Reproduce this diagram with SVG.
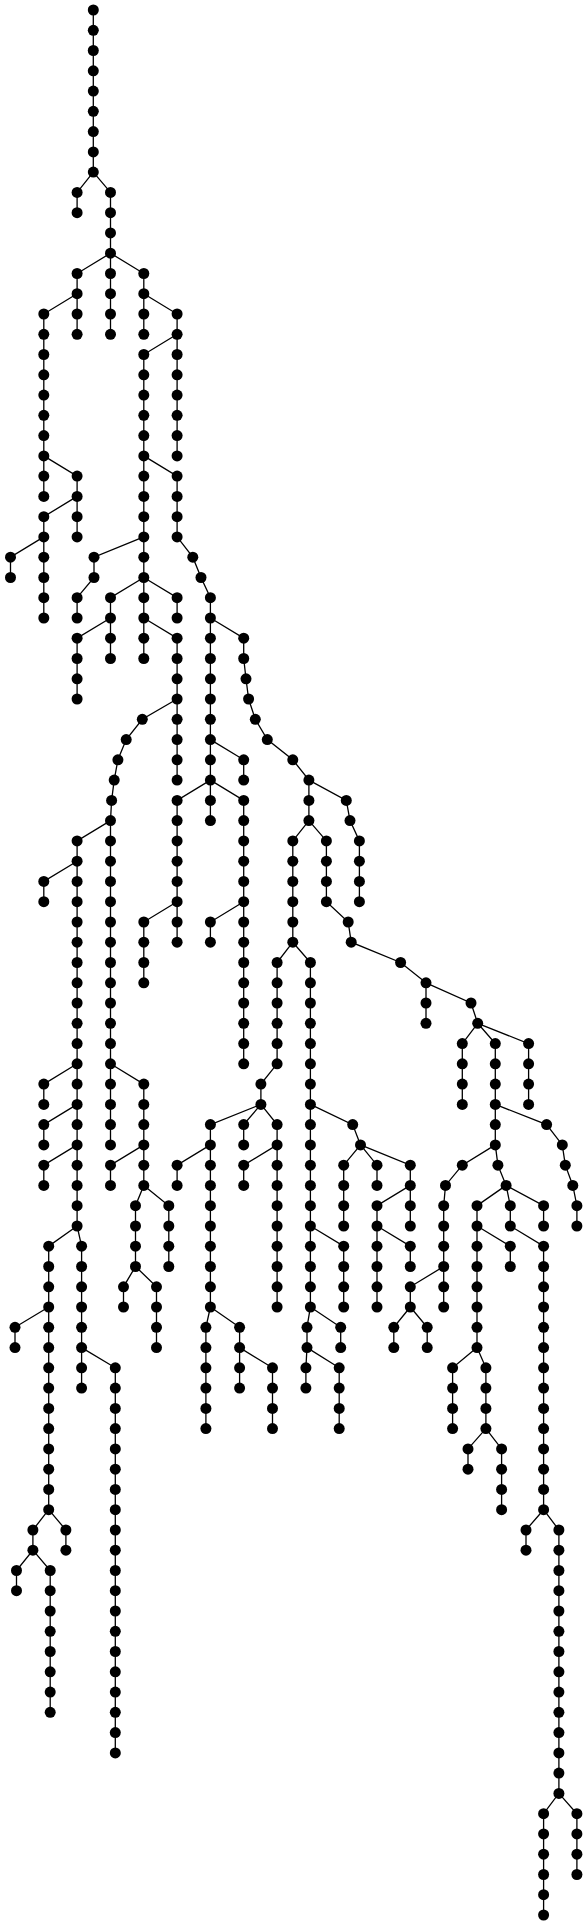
<svg xmlns="http://www.w3.org/2000/svg" width="587" height="1925" viewBox="0 0 587 1925">
<style>
.e path{fill:none;stroke:#000;stroke-width:1.3}
.nd circle{fill:#000;r:5.5px}
</style>
<rect width="587" height="1925" fill="#fff"/>
<g id="connectors" class="e">
<path d="M93.3 10V172.1"/>
<path d="M93.3 172.1L77.1 192.4V212.7"/>
<path d="M93.3 172.1L110.5 192.4V253.2"/>
<path d="M110.5 253.2L77.1 273.5V293.7"/>
<path d="M77.1 293.7L43.8 314V496.4"/>
<path d="M77.1 293.7V334.3"/>
<path d="M110.5 253.2V334.3"/>
<path d="M110.5 253.2L143.8 273.5V334.3"/>
<path d="M143.8 293.7L177.1 314V455.9"/>
<path d="M177.1 334.3L143.8 354.5V577.5"/>
<path d="M43.8 455.9L77.1 476.1V496.4"/>
<path d="M77.1 496.4V536.9"/>
<path d="M77.1 496.4L43.8 516.7V618"/>
<path d="M43.8 536.9L10.5 557.2V577.5"/>
<path d="M143.8 455.9L177.1 476.1V536.9L192.8 557.2L201 577.5L210.4 597.7V618"/>
<path d="M143.8 536.9L94 557.2V577.5L77.1 597.7V618"/>
<path d="M143.8 577.5L110.5 597.7V658.5"/>
<path d="M110.5 618L77.1 638.2V699"/>
<path d="M143.8 577.5V658.5"/>
<path d="M143.8 577.5L177.1 597.7V618"/>
<path d="M143.8 618L177.1 638.2V780.1"/>
<path d="M177.1 699L142.3 719.3L126.2 739.6L117.9 759.8L114.2 780.1L111.6 800.4L110.5 820.6V1144.9"/>
<path d="M110.5 820.6L77.1 840.9V1226"/>
<path d="M77.1 861.2L43.8 881.4V901.7"/>
<path d="M77.1 1063.8L43.8 1084.1V1104.4"/>
<path d="M77.1 1104.4L43.8 1124.6V1144.9"/>
<path d="M77.1 1144.9L43.8 1165.2V1185.4"/>
<path d="M77.1 1226L48.7 1246.2V1509.7"/>
<path d="M77.1 1226L81.6 1246.2V1388.1"/>
<path d="M48.7 1307L15 1327.3V1347.6"/>
<path d="M81.6 1347.6L115.3 1367.8V1752.9"/>
<path d="M48.7 1509.7L32.9 1530V1550.2L16.5 1570.5V1590.7"/>
<path d="M32.9 1550.2L50.2 1570.5V1712.3"/>
<path d="M48.7 1509.7L65.9 1530V1550.2"/>
<path d="M110.5 1063.8L143.8 1084.1V1185.4"/>
<path d="M177.1 901.7L143.8 922V982.8"/>
<path d="M143.8 1144.9L110.5 1165.2V1185.4"/>
<path d="M143.8 1185.4L135.5 1205.7V1266.5L123.5 1286.8V1307"/>
<path d="M135.5 1266.5L156.5 1286.8V1347.6"/>
<path d="M143.8 1185.4L168.8 1205.7V1266.5"/>
<path d="M210.4 618V820.6"/>
<path d="M210.4 780.1L177.1 800.4V942.2"/>
<path d="M210.4 780.1L243.7 800.4V1063.8"/>
<path d="M210.4 739.6L243.7 759.8V780.1"/>
<path d="M243.7 901.7L210.4 922V942.2"/>
<path d="M210.4 618L243.7 638.2V658.5L246 678.8L248.6 699L255.3 719.3L267.3 739.6L292.8 759.8L308.9 780.1V820.6"/>
<path d="M308.9 820.6L292.8 840.9V942.2"/>
<path d="M292.8 942.2L277.1 962.5V1063.8L260.9 1084.1V1104.4"/>
<path d="M292.8 942.2L310.4 962.5V1307"/>
<path d="M310.4 1104.4L352.7 1124.6L360.5 1144.9L343.7 1165.2V1226"/>
<path d="M360.5 1144.9L377 1165.2V1185.4"/>
<path d="M360.5 1144.9L410.3 1165.2V1226"/>
<path d="M410.3 1185.4L377 1205.7V1307"/>
<path d="M377 1226L410.3 1246.2V1266.5"/>
<path d="M310.4 1226L343.7 1246.2V1307"/>
<path d="M310.4 1307L307 1327.3V1347.6L305.9 1367.8V1388.1"/>
<path d="M307 1347.6L339.2 1367.8V1428.6"/>
<path d="M310.4 1307L340.7 1327.3V1347.6"/>
<path d="M260.9 1104.4L210.4 1124.6V1307"/>
<path d="M210.4 1144.9L177.1 1165.2V1185.4"/>
<path d="M210.4 1307L205.9 1327.3V1428.6"/>
<path d="M210.4 1307L239.6 1327.3V1388.1"/>
<path d="M239.6 1347.6L272.5 1367.8V1428.6"/>
<path d="M260.9 1104.4L243.7 1124.6V1144.9"/>
<path d="M260.9 1104.4L277.1 1124.6V1307"/>
<path d="M277.1 1144.9L243.7 1165.2V1185.4"/>
<path d="M308.9 780.1L346.3 800.4L350 820.6L359.4 840.9V901.7"/>
<path d="M308.9 820.6L326.4 840.9V901.7L348.2 922L351.2 942.2L400.6 962.5L426 982.8V1023.3"/>
<path d="M426 982.8L471 1003L477.7 1023.3L462.3 1043.6V1104.4"/>
<path d="M477.7 1023.3L495.3 1043.6V1144.9"/>
<path d="M477.7 1023.3L528.6 1043.6V1104.4"/>
<path d="M495.3 1104.4L546.6 1124.6L562.3 1144.9L565.3 1165.2L572.8 1185.4L576.9 1205.7V1226"/>
<path d="M495.3 1144.9L462.3 1165.2L445.5 1185.4L443.7 1205.7V1307"/>
<path d="M443.7 1266.5L410.3 1286.8V1307"/>
<path d="M410.3 1307L393.8 1327.3V1347.6"/>
<path d="M410.3 1307L427.2 1327.3V1347.6"/>
<path d="M495.3 1144.9L497.9 1165.2L506.1 1185.4L477 1205.7V1347.6"/>
<path d="M477 1226L510.3 1246.2V1266.5"/>
<path d="M506.1 1185.4L510.3 1205.7V1226L543.6 1246.2V1509.7"/>
<path d="M506.1 1185.4L543.6 1205.7V1226"/>
<path d="M477 1347.6L452.6 1367.8V1428.6"/>
<path d="M477 1347.6L485.9 1367.8V1428.6L468 1448.9V1469.2"/>
<path d="M485.9 1428.6L501.6 1448.9V1509.7"/>
<path d="M543.6 1509.7L526 1530V1550.2"/>
<path d="M543.6 1509.7L558.9 1530V1793.4L543.6 1813.7V1915"/>
<path d="M558.9 1793.4L576.9 1813.7V1874.5"/>
</g>
<g class="nd">
<g id="n0"><circle cx="93.3" cy="10"/></g>
<g id="n1"><circle cx="93.3" cy="30.3"/></g>
<g id="n2"><circle cx="93.3" cy="50.5"/></g>
<g id="n3"><circle cx="93.3" cy="70.8"/></g>
<g id="n4"><circle cx="93.3" cy="91.1"/></g>
<g id="n5"><circle cx="93.3" cy="111.3"/></g>
<g id="n6"><circle cx="93.3" cy="131.6"/></g>
<g id="n7"><circle cx="93.3" cy="151.9"/></g>
<g id="n8"><circle cx="93.3" cy="172.1"/></g>
<g id="n9a"><circle cx="77.1" cy="192.4"/></g>
<g id="n9b"><circle cx="110.5" cy="192.4"/></g>
<g id="n10a"><circle cx="77.1" cy="212.7"/></g>
<g id="n10b"><circle cx="110.5" cy="212.7"/></g>
<g id="n11"><circle cx="110.5" cy="232.9"/></g>
<g id="n12"><circle cx="110.5" cy="253.2"/></g>
<g id="n13a"><circle cx="77.1" cy="273.5"/></g>
<g id="n13b"><circle cx="110.5" cy="273.5"/></g>
<g id="n13c"><circle cx="143.8" cy="273.5"/></g>
<g id="n14a"><circle cx="77.1" cy="293.7"/></g>
<g id="n14b"><circle cx="110.5" cy="293.7"/></g>
<g id="n14c"><circle cx="143.8" cy="293.7"/></g>
<g id="n15a"><circle cx="43.8" cy="314"/></g>
<g id="n15b"><circle cx="77.1" cy="314"/></g>
<g id="n15c"><circle cx="110.5" cy="314"/></g>
<g id="n15d"><circle cx="143.8" cy="314"/></g>
<g id="n15e"><circle cx="177.1" cy="314"/></g>
<g id="n16a"><circle cx="43.8" cy="334.3"/></g>
<g id="n16b"><circle cx="77.1" cy="334.3"/></g>
<g id="n16c"><circle cx="110.5" cy="334.3"/></g>
<g id="n16d"><circle cx="143.8" cy="334.3"/></g>
<g id="n16e"><circle cx="177.1" cy="334.3"/></g>
<g id="n17a"><circle cx="43.8" cy="354.5"/></g>
<g id="n17b"><circle cx="143.8" cy="354.5"/></g>
<g id="n17c"><circle cx="177.1" cy="354.5"/></g>
<g id="n18a"><circle cx="43.8" cy="374.8"/></g>
<g id="n18b"><circle cx="143.8" cy="374.8"/></g>
<g id="n18c"><circle cx="177.1" cy="374.8"/></g>
<g id="n19a"><circle cx="43.8" cy="395.1"/></g>
<g id="n19b"><circle cx="143.8" cy="395.1"/></g>
<g id="n19c"><circle cx="177.1" cy="395.1"/></g>
<g id="n20a"><circle cx="43.8" cy="415.3"/></g>
<g id="n20b"><circle cx="143.8" cy="415.3"/></g>
<g id="n20c"><circle cx="177.1" cy="415.3"/></g>
<g id="n21a"><circle cx="43.8" cy="435.6"/></g>
<g id="n21b"><circle cx="143.8" cy="435.6"/></g>
<g id="n21c"><circle cx="177.1" cy="435.6"/></g>
<g id="n22a"><circle cx="43.8" cy="455.9"/></g>
<g id="n22b"><circle cx="143.8" cy="455.9"/></g>
<g id="n22c"><circle cx="177.1" cy="455.9"/></g>
<g id="n23a"><circle cx="43.8" cy="476.1"/></g>
<g id="n23b"><circle cx="77.1" cy="476.1"/></g>
<g id="n23c"><circle cx="143.8" cy="476.1"/></g>
<g id="n23d"><circle cx="177.1" cy="476.1"/></g>
<g id="n24a"><circle cx="43.8" cy="496.4"/></g>
<g id="n24b"><circle cx="77.1" cy="496.4"/></g>
<g id="n24c"><circle cx="143.8" cy="496.4"/></g>
<g id="n24d"><circle cx="177.1" cy="496.4"/></g>
<g id="n25a"><circle cx="43.8" cy="516.7"/></g>
<g id="n25b"><circle cx="77.1" cy="516.7"/></g>
<g id="n25c"><circle cx="143.8" cy="516.7"/></g>
<g id="n25d"><circle cx="177.1" cy="516.7"/></g>
<g id="n26a"><circle cx="43.8" cy="536.9"/></g>
<g id="n26b"><circle cx="77.1" cy="536.9"/></g>
<g id="n26c"><circle cx="143.8" cy="536.9"/></g>
<g id="n26d"><circle cx="177.1" cy="536.9"/></g>
<g id="n27a"><circle cx="10.5" cy="557.2"/></g>
<g id="n27b"><circle cx="43.8" cy="557.2"/></g>
<g id="n27c"><circle cx="94" cy="557.2"/></g>
<g id="n27d"><circle cx="143.8" cy="557.2"/></g>
<g id="n27e"><circle cx="192.8" cy="557.2"/></g>
<g id="n28a"><circle cx="10.5" cy="577.5"/></g>
<g id="n28b"><circle cx="43.8" cy="577.5"/></g>
<g id="n28c"><circle cx="94" cy="577.5"/></g>
<g id="n28d"><circle cx="143.8" cy="577.5"/></g>
<g id="n28e"><circle cx="201" cy="577.5"/></g>
<g id="n29a"><circle cx="43.8" cy="597.7"/></g>
<g id="n29b"><circle cx="77.1" cy="597.7"/></g>
<g id="n29c"><circle cx="110.5" cy="597.7"/></g>
<g id="n29d"><circle cx="143.8" cy="597.7"/></g>
<g id="n29e"><circle cx="177.1" cy="597.7"/></g>
<g id="n29f"><circle cx="210.4" cy="597.7"/></g>
<g id="n30a"><circle cx="43.8" cy="618"/></g>
<g id="n30b"><circle cx="77.1" cy="618"/></g>
<g id="n30c"><circle cx="110.5" cy="618"/></g>
<g id="n30d"><circle cx="143.8" cy="618"/></g>
<g id="n30e"><circle cx="177.1" cy="618"/></g>
<g id="n30f"><circle cx="210.4" cy="618"/></g>
<g id="n31a"><circle cx="77.1" cy="638.2"/></g>
<g id="n31b"><circle cx="110.5" cy="638.2"/></g>
<g id="n31c"><circle cx="143.8" cy="638.2"/></g>
<g id="n31d"><circle cx="177.1" cy="638.2"/></g>
<g id="n31e"><circle cx="210.4" cy="638.2"/></g>
<g id="n31f"><circle cx="243.7" cy="638.2"/></g>
<g id="n32a"><circle cx="77.1" cy="658.5"/></g>
<g id="n32b"><circle cx="110.5" cy="658.5"/></g>
<g id="n32c"><circle cx="143.8" cy="658.5"/></g>
<g id="n32d"><circle cx="177.1" cy="658.5"/></g>
<g id="n32e"><circle cx="210.4" cy="658.5"/></g>
<g id="n32f"><circle cx="243.7" cy="658.5"/></g>
<g id="n33a"><circle cx="77.1" cy="678.8"/></g>
<g id="n33b"><circle cx="177.1" cy="678.8"/></g>
<g id="n33c"><circle cx="210.4" cy="678.8"/></g>
<g id="n33d"><circle cx="246" cy="678.8"/></g>
<g id="n34a"><circle cx="77.1" cy="699"/></g>
<g id="n34b"><circle cx="177.1" cy="699"/></g>
<g id="n34c"><circle cx="210.4" cy="699"/></g>
<g id="n34d"><circle cx="248.6" cy="699"/></g>
<g id="n35a"><circle cx="142.3" cy="719.3"/></g>
<g id="n35b"><circle cx="177.1" cy="719.3"/></g>
<g id="n35c"><circle cx="210.4" cy="719.3"/></g>
<g id="n35d"><circle cx="255.3" cy="719.3"/></g>
<g id="n36a"><circle cx="126.2" cy="739.6"/></g>
<g id="n36b"><circle cx="177.1" cy="739.6"/></g>
<g id="n36c"><circle cx="210.4" cy="739.6"/></g>
<g id="n36d"><circle cx="267.3" cy="739.6"/></g>
<g id="n37a"><circle cx="117.9" cy="759.8"/></g>
<g id="n37b"><circle cx="177.1" cy="759.8"/></g>
<g id="n37c"><circle cx="210.4" cy="759.8"/></g>
<g id="n37d"><circle cx="243.7" cy="759.8"/></g>
<g id="n37e"><circle cx="292.8" cy="759.8"/></g>
<g id="n38a"><circle cx="114.2" cy="780.1"/></g>
<g id="n38b"><circle cx="177.1" cy="780.1"/></g>
<g id="n38c"><circle cx="210.4" cy="780.1"/></g>
<g id="n38d"><circle cx="243.7" cy="780.1"/></g>
<g id="n38e"><circle cx="308.9" cy="780.1"/></g>
<g id="n39a"><circle cx="111.6" cy="800.4"/></g>
<g id="n39b"><circle cx="177.1" cy="800.4"/></g>
<g id="n39c"><circle cx="210.4" cy="800.4"/></g>
<g id="n39d"><circle cx="243.7" cy="800.4"/></g>
<g id="n39e"><circle cx="308.9" cy="800.4"/></g>
<g id="n39f"><circle cx="346.3" cy="800.4"/></g>
<g id="n40a"><circle cx="110.5" cy="820.6"/></g>
<g id="n40b"><circle cx="177.1" cy="820.6"/></g>
<g id="n40c"><circle cx="210.4" cy="820.6"/></g>
<g id="n40d"><circle cx="243.7" cy="820.6"/></g>
<g id="n40e"><circle cx="308.9" cy="820.6"/></g>
<g id="n40f"><circle cx="350" cy="820.6"/></g>
<g id="n41a"><circle cx="77.1" cy="840.9"/></g>
<g id="n41b"><circle cx="110.5" cy="840.9"/></g>
<g id="n41c"><circle cx="177.1" cy="840.9"/></g>
<g id="n41d"><circle cx="243.7" cy="840.9"/></g>
<g id="n41e"><circle cx="292.8" cy="840.9"/></g>
<g id="n41f"><circle cx="326.4" cy="840.9"/></g>
<g id="n41g"><circle cx="359.4" cy="840.9"/></g>
<g id="n42a"><circle cx="77.1" cy="861.2"/></g>
<g id="n42b"><circle cx="110.5" cy="861.2"/></g>
<g id="n42c"><circle cx="177.1" cy="861.2"/></g>
<g id="n42d"><circle cx="243.7" cy="861.2"/></g>
<g id="n42e"><circle cx="292.8" cy="861.2"/></g>
<g id="n42f"><circle cx="326.4" cy="861.2"/></g>
<g id="n42g"><circle cx="359.4" cy="861.2"/></g>
<g id="n43a"><circle cx="43.8" cy="881.4"/></g>
<g id="n43b"><circle cx="77.1" cy="881.4"/></g>
<g id="n43c"><circle cx="110.5" cy="881.4"/></g>
<g id="n43d"><circle cx="177.1" cy="881.4"/></g>
<g id="n43e"><circle cx="243.7" cy="881.4"/></g>
<g id="n43f"><circle cx="292.8" cy="881.4"/></g>
<g id="n43g"><circle cx="326.4" cy="881.4"/></g>
<g id="n43h"><circle cx="359.4" cy="881.4"/></g>
<g id="n44a"><circle cx="43.8" cy="901.7"/></g>
<g id="n44b"><circle cx="77.1" cy="901.7"/></g>
<g id="n44c"><circle cx="110.5" cy="901.7"/></g>
<g id="n44d"><circle cx="177.1" cy="901.7"/></g>
<g id="n44e"><circle cx="243.7" cy="901.7"/></g>
<g id="n44f"><circle cx="292.8" cy="901.7"/></g>
<g id="n44g"><circle cx="326.4" cy="901.7"/></g>
<g id="n44h"><circle cx="359.4" cy="901.7"/></g>
<g id="n45a"><circle cx="77.1" cy="922"/></g>
<g id="n45b"><circle cx="110.5" cy="922"/></g>
<g id="n45c"><circle cx="143.8" cy="922"/></g>
<g id="n45d"><circle cx="177.1" cy="922"/></g>
<g id="n45e"><circle cx="210.4" cy="922"/></g>
<g id="n45f"><circle cx="243.7" cy="922"/></g>
<g id="n45g"><circle cx="292.8" cy="922"/></g>
<g id="n45h"><circle cx="348.2" cy="922"/></g>
<g id="n46a"><circle cx="77.1" cy="942.2"/></g>
<g id="n46b"><circle cx="110.5" cy="942.2"/></g>
<g id="n46c"><circle cx="143.8" cy="942.2"/></g>
<g id="n46d"><circle cx="177.1" cy="942.2"/></g>
<g id="n46e"><circle cx="210.4" cy="942.2"/></g>
<g id="n46f"><circle cx="243.7" cy="942.2"/></g>
<g id="n46g"><circle cx="292.8" cy="942.2"/></g>
<g id="n46h"><circle cx="351.2" cy="942.2"/></g>
<g id="n47a"><circle cx="77.1" cy="962.5"/></g>
<g id="n47b"><circle cx="110.5" cy="962.5"/></g>
<g id="n47c"><circle cx="143.8" cy="962.5"/></g>
<g id="n47d"><circle cx="243.7" cy="962.5"/></g>
<g id="n47e"><circle cx="277.1" cy="962.5"/></g>
<g id="n47f"><circle cx="310.4" cy="962.5"/></g>
<g id="n47g"><circle cx="400.6" cy="962.5"/></g>
<g id="n48a"><circle cx="77.1" cy="982.8"/></g>
<g id="n48b"><circle cx="110.5" cy="982.8"/></g>
<g id="n48c"><circle cx="143.8" cy="982.8"/></g>
<g id="n48d"><circle cx="243.7" cy="982.8"/></g>
<g id="n48e"><circle cx="277.1" cy="982.8"/></g>
<g id="n48f"><circle cx="310.4" cy="982.8"/></g>
<g id="n48g"><circle cx="426" cy="982.8"/></g>
<g id="n49a"><circle cx="77.1" cy="1003"/></g>
<g id="n49b"><circle cx="110.5" cy="1003"/></g>
<g id="n49c"><circle cx="243.7" cy="1003"/></g>
<g id="n49d"><circle cx="277.1" cy="1003"/></g>
<g id="n49e"><circle cx="310.4" cy="1003"/></g>
<g id="n49f"><circle cx="426" cy="1003"/></g>
<g id="n49g"><circle cx="471" cy="1003"/></g>
<g id="n50a"><circle cx="77.1" cy="1023.3"/></g>
<g id="n50b"><circle cx="110.5" cy="1023.3"/></g>
<g id="n50c"><circle cx="243.7" cy="1023.3"/></g>
<g id="n50d"><circle cx="277.1" cy="1023.3"/></g>
<g id="n50e"><circle cx="310.4" cy="1023.3"/></g>
<g id="n50f"><circle cx="426" cy="1023.3"/></g>
<g id="n50g"><circle cx="477.7" cy="1023.3"/></g>
<g id="n51a"><circle cx="77.1" cy="1043.6"/></g>
<g id="n51b"><circle cx="110.5" cy="1043.6"/></g>
<g id="n51c"><circle cx="243.7" cy="1043.6"/></g>
<g id="n51d"><circle cx="277.1" cy="1043.6"/></g>
<g id="n51e"><circle cx="310.4" cy="1043.6"/></g>
<g id="n51f"><circle cx="462.3" cy="1043.6"/></g>
<g id="n51g"><circle cx="495.3" cy="1043.6"/></g>
<g id="n51h"><circle cx="528.6" cy="1043.6"/></g>
<g id="n52a"><circle cx="77.1" cy="1063.8"/></g>
<g id="n52b"><circle cx="110.5" cy="1063.8"/></g>
<g id="n52c"><circle cx="243.7" cy="1063.8"/></g>
<g id="n52d"><circle cx="277.1" cy="1063.8"/></g>
<g id="n52e"><circle cx="310.4" cy="1063.8"/></g>
<g id="n52f"><circle cx="462.3" cy="1063.8"/></g>
<g id="n52g"><circle cx="495.3" cy="1063.8"/></g>
<g id="n52h"><circle cx="528.6" cy="1063.8"/></g>
<g id="n53a"><circle cx="43.8" cy="1084.1"/></g>
<g id="n53b"><circle cx="77.1" cy="1084.1"/></g>
<g id="n53c"><circle cx="110.5" cy="1084.1"/></g>
<g id="n53d"><circle cx="143.8" cy="1084.1"/></g>
<g id="n53e"><circle cx="260.9" cy="1084.1"/></g>
<g id="n53f"><circle cx="310.4" cy="1084.1"/></g>
<g id="n53g"><circle cx="462.3" cy="1084.1"/></g>
<g id="n53h"><circle cx="495.3" cy="1084.1"/></g>
<g id="n53i"><circle cx="528.6" cy="1084.1"/></g>
<g id="n54a"><circle cx="43.8" cy="1104.4"/></g>
<g id="n54b"><circle cx="77.1" cy="1104.4"/></g>
<g id="n54c"><circle cx="110.5" cy="1104.4"/></g>
<g id="n54d"><circle cx="143.8" cy="1104.4"/></g>
<g id="n54e"><circle cx="260.9" cy="1104.4"/></g>
<g id="n54f"><circle cx="310.4" cy="1104.4"/></g>
<g id="n54g"><circle cx="462.3" cy="1104.4"/></g>
<g id="n54h"><circle cx="495.3" cy="1104.4"/></g>
<g id="n54i"><circle cx="528.6" cy="1104.4"/></g>
<g id="n55a"><circle cx="43.8" cy="1124.6"/></g>
<g id="n55b"><circle cx="77.1" cy="1124.6"/></g>
<g id="n55c"><circle cx="110.5" cy="1124.6"/></g>
<g id="n55d"><circle cx="143.8" cy="1124.6"/></g>
<g id="n55e"><circle cx="210.4" cy="1124.6"/></g>
<g id="n55f"><circle cx="243.7" cy="1124.6"/></g>
<g id="n55g"><circle cx="277.1" cy="1124.6"/></g>
<g id="n55h"><circle cx="310.4" cy="1124.6"/></g>
<g id="n55i"><circle cx="352.7" cy="1124.6"/></g>
<g id="n55j"><circle cx="495.3" cy="1124.6"/></g>
<g id="n55k"><circle cx="546.6" cy="1124.6"/></g>
<g id="n56a"><circle cx="43.8" cy="1144.9"/></g>
<g id="n56b"><circle cx="77.1" cy="1144.9"/></g>
<g id="n56c"><circle cx="110.5" cy="1144.9"/></g>
<g id="n56d"><circle cx="143.8" cy="1144.9"/></g>
<g id="n56e"><circle cx="210.4" cy="1144.9"/></g>
<g id="n56f"><circle cx="243.7" cy="1144.9"/></g>
<g id="n56g"><circle cx="277.1" cy="1144.9"/></g>
<g id="n56h"><circle cx="310.4" cy="1144.9"/></g>
<g id="n56i"><circle cx="360.5" cy="1144.9"/></g>
<g id="n56j"><circle cx="495.3" cy="1144.9"/></g>
<g id="n56k"><circle cx="562.3" cy="1144.9"/></g>
<g id="n57a"><circle cx="43.8" cy="1165.2"/></g>
<g id="n57b"><circle cx="77.1" cy="1165.2"/></g>
<g id="n57c"><circle cx="110.5" cy="1165.2"/></g>
<g id="n57d"><circle cx="143.8" cy="1165.2"/></g>
<g id="n57e"><circle cx="177.1" cy="1165.2"/></g>
<g id="n57f"><circle cx="210.4" cy="1165.2"/></g>
<g id="n57g"><circle cx="243.7" cy="1165.2"/></g>
<g id="n57h"><circle cx="277.1" cy="1165.2"/></g>
<g id="n57i"><circle cx="310.4" cy="1165.2"/></g>
<g id="n57j"><circle cx="343.7" cy="1165.2"/></g>
<g id="n57k"><circle cx="377" cy="1165.2"/></g>
<g id="n57l"><circle cx="410.3" cy="1165.2"/></g>
<g id="n57m"><circle cx="462.3" cy="1165.2"/></g>
<g id="n57n"><circle cx="497.9" cy="1165.2"/></g>
<g id="n57o"><circle cx="565.3" cy="1165.2"/></g>
<g id="n58a"><circle cx="43.8" cy="1185.4"/></g>
<g id="n58b"><circle cx="77.1" cy="1185.4"/></g>
<g id="n58c"><circle cx="110.5" cy="1185.4"/></g>
<g id="n58d"><circle cx="143.8" cy="1185.4"/></g>
<g id="n58e"><circle cx="177.1" cy="1185.4"/></g>
<g id="n58f"><circle cx="210.4" cy="1185.4"/></g>
<g id="n58g"><circle cx="243.7" cy="1185.4"/></g>
<g id="n58h"><circle cx="277.1" cy="1185.4"/></g>
<g id="n58i"><circle cx="310.4" cy="1185.4"/></g>
<g id="n58j"><circle cx="343.7" cy="1185.4"/></g>
<g id="n58k"><circle cx="377" cy="1185.4"/></g>
<g id="n58l"><circle cx="410.3" cy="1185.4"/></g>
<g id="n58m"><circle cx="445.5" cy="1185.4"/></g>
<g id="n58n"><circle cx="506.1" cy="1185.4"/></g>
<g id="n58o"><circle cx="572.8" cy="1185.4"/></g>
<g id="n59a"><circle cx="77.1" cy="1205.7"/></g>
<g id="n59b"><circle cx="135.5" cy="1205.7"/></g>
<g id="n59c"><circle cx="168.8" cy="1205.7"/></g>
<g id="n59d"><circle cx="210.4" cy="1205.7"/></g>
<g id="n59e"><circle cx="277.1" cy="1205.7"/></g>
<g id="n59f"><circle cx="310.4" cy="1205.7"/></g>
<g id="n59g"><circle cx="343.7" cy="1205.7"/></g>
<g id="n59h"><circle cx="377" cy="1205.7"/></g>
<g id="n59i"><circle cx="410.3" cy="1205.7"/></g>
<g id="n59j"><circle cx="443.7" cy="1205.7"/></g>
<g id="n59k"><circle cx="477" cy="1205.7"/></g>
<g id="n59l"><circle cx="510.3" cy="1205.7"/></g>
<g id="n59m"><circle cx="543.6" cy="1205.7"/></g>
<g id="n59n"><circle cx="576.9" cy="1205.7"/></g>
<g id="n60a"><circle cx="77.1" cy="1226"/></g>
<g id="n60b"><circle cx="135.5" cy="1226"/></g>
<g id="n60c"><circle cx="168.8" cy="1226"/></g>
<g id="n60d"><circle cx="210.4" cy="1226"/></g>
<g id="n60e"><circle cx="277.1" cy="1226"/></g>
<g id="n60f"><circle cx="310.4" cy="1226"/></g>
<g id="n60g"><circle cx="343.7" cy="1226"/></g>
<g id="n60h"><circle cx="377" cy="1226"/></g>
<g id="n60i"><circle cx="410.3" cy="1226"/></g>
<g id="n60j"><circle cx="443.7" cy="1226"/></g>
<g id="n60k"><circle cx="477" cy="1226"/></g>
<g id="n60l"><circle cx="510.3" cy="1226"/></g>
<g id="n60m"><circle cx="543.6" cy="1226"/></g>
<g id="n60n"><circle cx="576.9" cy="1226"/></g>
<g id="n61a"><circle cx="48.7" cy="1246.2"/></g>
<g id="n61b"><circle cx="81.6" cy="1246.2"/></g>
<g id="n61c"><circle cx="135.5" cy="1246.2"/></g>
<g id="n61d"><circle cx="168.8" cy="1246.2"/></g>
<g id="n61e"><circle cx="210.4" cy="1246.2"/></g>
<g id="n61f"><circle cx="277.1" cy="1246.2"/></g>
<g id="n61g"><circle cx="310.4" cy="1246.2"/></g>
<g id="n61h"><circle cx="343.7" cy="1246.2"/></g>
<g id="n61i"><circle cx="377" cy="1246.2"/></g>
<g id="n61j"><circle cx="410.3" cy="1246.2"/></g>
<g id="n61k"><circle cx="443.7" cy="1246.2"/></g>
<g id="n61l"><circle cx="477" cy="1246.2"/></g>
<g id="n61m"><circle cx="510.3" cy="1246.2"/></g>
<g id="n61n"><circle cx="543.6" cy="1246.2"/></g>
<g id="n62a"><circle cx="48.7" cy="1266.5"/></g>
<g id="n62b"><circle cx="81.6" cy="1266.5"/></g>
<g id="n62c"><circle cx="135.5" cy="1266.5"/></g>
<g id="n62d"><circle cx="168.8" cy="1266.5"/></g>
<g id="n62e"><circle cx="210.4" cy="1266.5"/></g>
<g id="n62f"><circle cx="277.1" cy="1266.5"/></g>
<g id="n62g"><circle cx="310.4" cy="1266.5"/></g>
<g id="n62h"><circle cx="343.7" cy="1266.5"/></g>
<g id="n62i"><circle cx="377" cy="1266.5"/></g>
<g id="n62j"><circle cx="410.3" cy="1266.5"/></g>
<g id="n62k"><circle cx="443.7" cy="1266.5"/></g>
<g id="n62l"><circle cx="477" cy="1266.5"/></g>
<g id="n62m"><circle cx="510.3" cy="1266.5"/></g>
<g id="n62n"><circle cx="543.6" cy="1266.5"/></g>
<g id="n63a"><circle cx="48.7" cy="1286.8"/></g>
<g id="n63b"><circle cx="81.6" cy="1286.8"/></g>
<g id="n63c"><circle cx="123.5" cy="1286.8"/></g>
<g id="n63d"><circle cx="156.5" cy="1286.8"/></g>
<g id="n63e"><circle cx="210.4" cy="1286.8"/></g>
<g id="n63f"><circle cx="277.1" cy="1286.8"/></g>
<g id="n63g"><circle cx="310.4" cy="1286.8"/></g>
<g id="n63h"><circle cx="343.7" cy="1286.8"/></g>
<g id="n63i"><circle cx="377" cy="1286.8"/></g>
<g id="n63j"><circle cx="410.3" cy="1286.8"/></g>
<g id="n63k"><circle cx="443.7" cy="1286.8"/></g>
<g id="n63l"><circle cx="477" cy="1286.8"/></g>
<g id="n63m"><circle cx="543.6" cy="1286.8"/></g>
<g id="n64a"><circle cx="48.7" cy="1307"/></g>
<g id="n64b"><circle cx="81.6" cy="1307"/></g>
<g id="n64c"><circle cx="123.5" cy="1307"/></g>
<g id="n64d"><circle cx="156.5" cy="1307"/></g>
<g id="n64e"><circle cx="210.4" cy="1307"/></g>
<g id="n64f"><circle cx="277.1" cy="1307"/></g>
<g id="n64g"><circle cx="310.4" cy="1307"/></g>
<g id="n64h"><circle cx="343.7" cy="1307"/></g>
<g id="n64i"><circle cx="377" cy="1307"/></g>
<g id="n64j"><circle cx="410.3" cy="1307"/></g>
<g id="n64k"><circle cx="443.7" cy="1307"/></g>
<g id="n64l"><circle cx="477" cy="1307"/></g>
<g id="n64m"><circle cx="543.6" cy="1307"/></g>
<g id="n65a"><circle cx="15" cy="1327.3"/></g>
<g id="n65b"><circle cx="48.7" cy="1327.3"/></g>
<g id="n65c"><circle cx="81.6" cy="1327.3"/></g>
<g id="n65d"><circle cx="156.5" cy="1327.3"/></g>
<g id="n65e"><circle cx="205.9" cy="1327.3"/></g>
<g id="n65f"><circle cx="239.6" cy="1327.3"/></g>
<g id="n65g"><circle cx="307" cy="1327.3"/></g>
<g id="n65h"><circle cx="340.7" cy="1327.3"/></g>
<g id="n65i"><circle cx="393.8" cy="1327.3"/></g>
<g id="n65j"><circle cx="427.2" cy="1327.3"/></g>
<g id="n65k"><circle cx="477" cy="1327.3"/></g>
<g id="n65l"><circle cx="543.6" cy="1327.3"/></g>
<g id="n66a"><circle cx="15" cy="1347.6"/></g>
<g id="n66b"><circle cx="48.7" cy="1347.6"/></g>
<g id="n66c"><circle cx="81.6" cy="1347.6"/></g>
<g id="n66d"><circle cx="156.5" cy="1347.6"/></g>
<g id="n66e"><circle cx="205.9" cy="1347.6"/></g>
<g id="n66f"><circle cx="239.6" cy="1347.6"/></g>
<g id="n66g"><circle cx="307" cy="1347.6"/></g>
<g id="n66h"><circle cx="340.7" cy="1347.6"/></g>
<g id="n66i"><circle cx="393.8" cy="1347.6"/></g>
<g id="n66j"><circle cx="427.2" cy="1347.6"/></g>
<g id="n66k"><circle cx="477" cy="1347.6"/></g>
<g id="n66l"><circle cx="543.6" cy="1347.6"/></g>
<g id="n67a"><circle cx="48.7" cy="1367.8"/></g>
<g id="n67b"><circle cx="81.6" cy="1367.8"/></g>
<g id="n67c"><circle cx="115.3" cy="1367.8"/></g>
<g id="n67d"><circle cx="205.9" cy="1367.8"/></g>
<g id="n67e"><circle cx="239.6" cy="1367.8"/></g>
<g id="n67f"><circle cx="272.5" cy="1367.8"/></g>
<g id="n67g"><circle cx="305.9" cy="1367.8"/></g>
<g id="n67h"><circle cx="339.2" cy="1367.8"/></g>
<g id="n67i"><circle cx="452.6" cy="1367.8"/></g>
<g id="n67j"><circle cx="485.9" cy="1367.8"/></g>
<g id="n67k"><circle cx="543.6" cy="1367.8"/></g>
<g id="n68a"><circle cx="48.7" cy="1388.1"/></g>
<g id="n68b"><circle cx="81.6" cy="1388.1"/></g>
<g id="n68c"><circle cx="115.3" cy="1388.1"/></g>
<g id="n68d"><circle cx="205.9" cy="1388.1"/></g>
<g id="n68e"><circle cx="239.6" cy="1388.1"/></g>
<g id="n68f"><circle cx="272.5" cy="1388.1"/></g>
<g id="n68g"><circle cx="305.9" cy="1388.1"/></g>
<g id="n68h"><circle cx="339.2" cy="1388.1"/></g>
<g id="n68i"><circle cx="452.6" cy="1388.1"/></g>
<g id="n68j"><circle cx="485.9" cy="1388.1"/></g>
<g id="n68k"><circle cx="543.6" cy="1388.1"/></g>
<g id="n69a"><circle cx="48.7" cy="1408.4"/></g>
<g id="n69b"><circle cx="115.3" cy="1408.4"/></g>
<g id="n69c"><circle cx="205.9" cy="1408.4"/></g>
<g id="n69d"><circle cx="272.5" cy="1408.4"/></g>
<g id="n69e"><circle cx="339.2" cy="1408.4"/></g>
<g id="n69f"><circle cx="452.6" cy="1408.4"/></g>
<g id="n69g"><circle cx="485.9" cy="1408.4"/></g>
<g id="n69h"><circle cx="543.6" cy="1408.4"/></g>
<g id="n70a"><circle cx="48.7" cy="1428.6"/></g>
<g id="n70b"><circle cx="115.3" cy="1428.6"/></g>
<g id="n70c"><circle cx="205.9" cy="1428.6"/></g>
<g id="n70d"><circle cx="272.5" cy="1428.6"/></g>
<g id="n70e"><circle cx="339.2" cy="1428.6"/></g>
<g id="n70f"><circle cx="452.6" cy="1428.6"/></g>
<g id="n70g"><circle cx="485.9" cy="1428.6"/></g>
<g id="n70h"><circle cx="543.6" cy="1428.6"/></g>
<g id="n71a"><circle cx="48.7" cy="1448.9"/></g>
<g id="n71b"><circle cx="115.3" cy="1448.9"/></g>
<g id="n71c"><circle cx="468" cy="1448.9"/></g>
<g id="n71d"><circle cx="501.6" cy="1448.9"/></g>
<g id="n71e"><circle cx="543.6" cy="1448.9"/></g>
<g id="n72a"><circle cx="48.7" cy="1469.2"/></g>
<g id="n72b"><circle cx="115.3" cy="1469.2"/></g>
<g id="n72c"><circle cx="468" cy="1469.2"/></g>
<g id="n72d"><circle cx="501.6" cy="1469.2"/></g>
<g id="n72e"><circle cx="543.6" cy="1469.2"/></g>
<g id="n73a"><circle cx="48.7" cy="1489.4"/></g>
<g id="n73b"><circle cx="115.3" cy="1489.4"/></g>
<g id="n73c"><circle cx="501.6" cy="1489.4"/></g>
<g id="n73d"><circle cx="543.6" cy="1489.4"/></g>
<g id="n74a"><circle cx="48.7" cy="1509.7"/></g>
<g id="n74b"><circle cx="115.3" cy="1509.7"/></g>
<g id="n74c"><circle cx="501.6" cy="1509.7"/></g>
<g id="n74d"><circle cx="543.6" cy="1509.7"/></g>
<g id="n75a"><circle cx="32.9" cy="1530"/></g>
<g id="n75b"><circle cx="65.9" cy="1530"/></g>
<g id="n75c"><circle cx="115.3" cy="1530"/></g>
<g id="n75d"><circle cx="526" cy="1530"/></g>
<g id="n75e"><circle cx="558.9" cy="1530"/></g>
<g id="n76a"><circle cx="32.9" cy="1550.2"/></g>
<g id="n76b"><circle cx="65.9" cy="1550.2"/></g>
<g id="n76c"><circle cx="115.3" cy="1550.2"/></g>
<g id="n76d"><circle cx="526" cy="1550.2"/></g>
<g id="n76e"><circle cx="558.9" cy="1550.2"/></g>
<g id="n77a"><circle cx="16.5" cy="1570.5"/></g>
<g id="n77b"><circle cx="50.2" cy="1570.5"/></g>
<g id="n77c"><circle cx="115.3" cy="1570.5"/></g>
<g id="n77d"><circle cx="558.9" cy="1570.5"/></g>
<g id="n78a"><circle cx="16.5" cy="1590.7"/></g>
<g id="n78b"><circle cx="50.2" cy="1590.7"/></g>
<g id="n78c"><circle cx="115.3" cy="1590.7"/></g>
<g id="n78d"><circle cx="558.9" cy="1590.7"/></g>
<g id="n79a"><circle cx="50.2" cy="1611"/></g>
<g id="n79b"><circle cx="115.3" cy="1611"/></g>
<g id="n79c"><circle cx="558.9" cy="1611"/></g>
<g id="n80a"><circle cx="50.2" cy="1631.3"/></g>
<g id="n80b"><circle cx="115.3" cy="1631.3"/></g>
<g id="n80c"><circle cx="558.9" cy="1631.3"/></g>
<g id="n81a"><circle cx="50.2" cy="1651.5"/></g>
<g id="n81b"><circle cx="115.3" cy="1651.5"/></g>
<g id="n81c"><circle cx="558.9" cy="1651.5"/></g>
<g id="n82a"><circle cx="50.2" cy="1671.8"/></g>
<g id="n82b"><circle cx="115.3" cy="1671.8"/></g>
<g id="n82c"><circle cx="558.9" cy="1671.8"/></g>
<g id="n83a"><circle cx="50.2" cy="1692.1"/></g>
<g id="n83b"><circle cx="115.3" cy="1692.1"/></g>
<g id="n83c"><circle cx="558.9" cy="1692.1"/></g>
<g id="n84a"><circle cx="50.2" cy="1712.3"/></g>
<g id="n84b"><circle cx="115.3" cy="1712.3"/></g>
<g id="n84c"><circle cx="558.9" cy="1712.3"/></g>
<g id="n85a"><circle cx="115.3" cy="1732.6"/></g>
<g id="n85b"><circle cx="558.9" cy="1732.6"/></g>
<g id="n86a"><circle cx="115.3" cy="1752.9"/></g>
<g id="n86b"><circle cx="558.9" cy="1752.9"/></g>
<g id="n87"><circle cx="558.9" cy="1773.1"/></g>
<g id="n88"><circle cx="558.9" cy="1793.4"/></g>
<g id="n89a"><circle cx="543.6" cy="1813.7"/></g>
<g id="n89b"><circle cx="576.9" cy="1813.7"/></g>
<g id="n90a"><circle cx="543.6" cy="1833.9"/></g>
<g id="n90b"><circle cx="576.9" cy="1833.9"/></g>
<g id="n91a"><circle cx="543.6" cy="1854.2"/></g>
<g id="n91b"><circle cx="576.9" cy="1854.2"/></g>
<g id="n92a"><circle cx="543.6" cy="1874.5"/></g>
<g id="n92b"><circle cx="576.9" cy="1874.5"/></g>
<g id="n93"><circle cx="543.6" cy="1894.7"/></g>
<g id="n94"><circle cx="543.6" cy="1915"/></g>
</g>
</svg>
